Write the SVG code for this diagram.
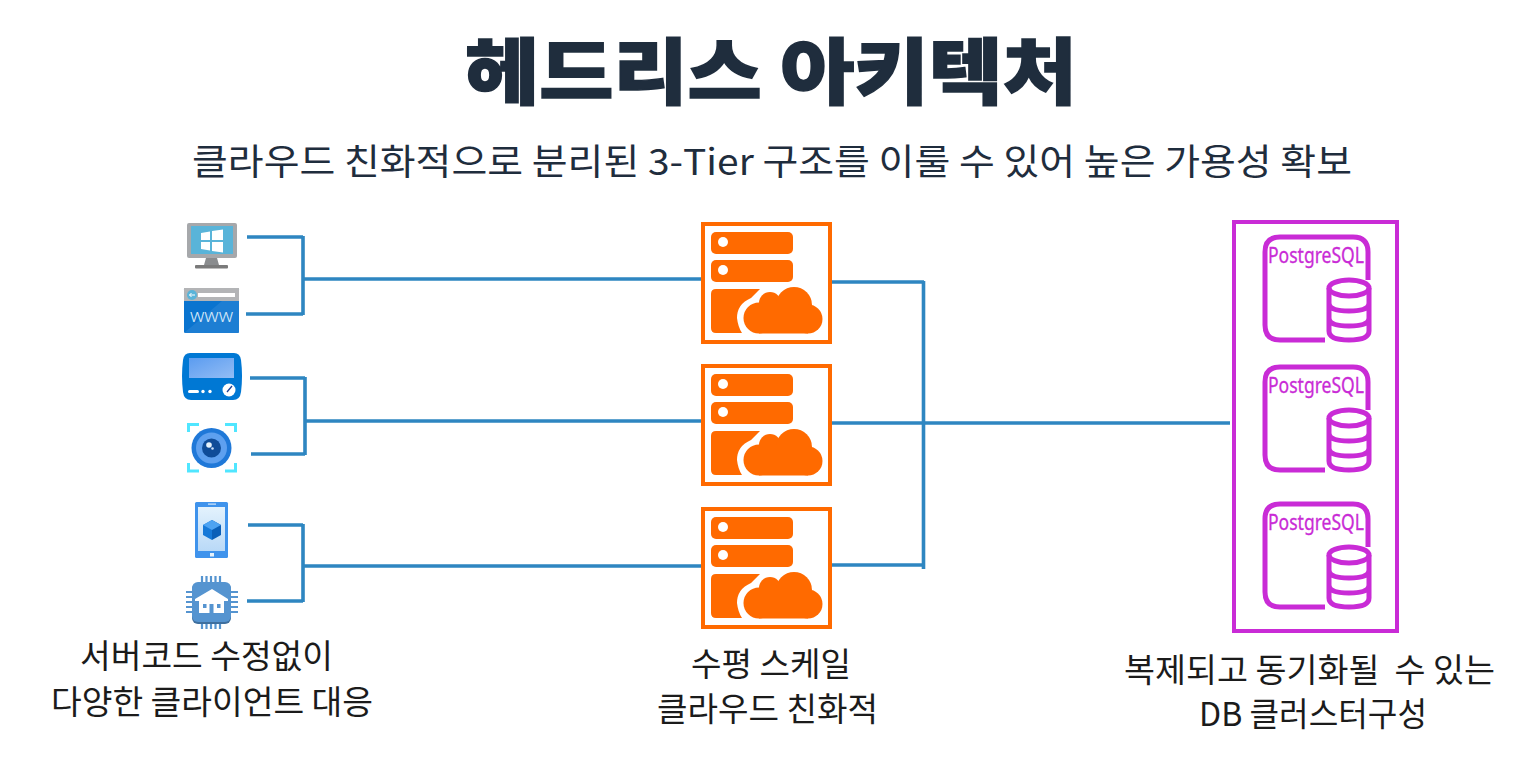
<svg xmlns="http://www.w3.org/2000/svg" width="1516" height="765" viewBox="0 0 1516 765">
<style>
text{font-family:"Noto Sans CJK KR","Noto Sans",sans-serif;fill:#1f2d3d;text-anchor:start}
.title{font-size:72px;font-weight:900;stroke:#1f2d3d;stroke-width:1.5}
.sub{font-size:36px;font-weight:400}
.cap{font-size:33px;font-weight:400;fill:#1b1b1b}
.conn{stroke:#2e86c1;stroke-width:3.6;fill:none}
.or{fill:#ff6a00}
.mg{stroke:#c92bd6;stroke-width:5;fill:none}
.pg{font-family:"Noto Sans",sans-serif;font-size:21px;fill:#c92bd6;stroke:#c92bd6;stroke-width:.3}
</style>
<defs>
<linearGradient id="blueg" x1="0" y1="0" x2="1" y2="1"><stop offset="0" stop-color="#5b9cf0"/><stop offset="1" stop-color="#93bdf5"/></linearGradient>
<linearGradient id="phg" x1="0" y1="0" x2="0" y2="1"><stop offset="0" stop-color="#e3f2fd"/><stop offset="1" stop-color="#b9d9f7"/></linearGradient>
<g id="server">
<rect x="703" y="224" width="127" height="118" fill="#fff" stroke="#ff6a00" stroke-width="4"/>
<rect class="or" x="711" y="232" width="82" height="22" rx="5"/>
<rect class="or" x="711" y="260" width="82" height="22" rx="5"/>
<circle cx="723" cy="242" r="5" fill="#fff"/>
<circle cx="723" cy="270" r="5" fill="#fff"/>
<path class="or" d="M716 289H760L751 298Q737 304 737 318Q738 327 742 333H716Q711 333 711 328V294Q711 289 716 289Z"/>
<circle class="or" cx="759" cy="318" r="15.500"/>
<circle class="or" cx="770" cy="303" r="11"/>
<circle class="or" cx="794" cy="305" r="18"/>
<circle class="or" cx="808" cy="319" r="14.500"/>
<rect class="or" x="759" y="303" width="49" height="30.500"/>
</g>
<g id="pgdb">
<path class="mg" d="M1368 280V252Q1368 237 1353 237H1280Q1265 237 1265 252V325Q1265 340 1280 340H1325"/>
<text class="pg" x="1268" y="263" textLength="96" lengthAdjust="spacingAndGlyphs">PostgreSQL</text>
<ellipse class="mg" cx="1349" cy="288" rx="20" ry="8"/>
<path class="mg" d="M1329 288V331Q1329 340 1349 340Q1369 340 1369 331V288M1329 303Q1329 311 1349 311Q1369 311 1369 303M1329 318Q1329 326 1349 326Q1369 326 1369 318"/>
</g>
</defs>

<g id="title">
<text class="title" x="465" y="98" textLength="612" lengthAdjust="spacingAndGlyphs">헤드리스 아키텍처</text>
<text class="sub" x="192" y="175" textLength="1160" lengthAdjust="spacingAndGlyphs">클라우드 친화적으로 분리된 3-Tier 구조를 이룰 수 있어 높은 가용성 확보</text>
</g>

<g id="connectors" class="conn">
<path d="M247 237H303M303 236V315M246 314H303M302 279H703"/>
<path d="M250 378H305M305 377V455M251 454H305M304 421H703"/>
<path d="M248 525H303M303 524V602M247 601H303M302 566H703"/>
<path d="M830 282H924M830 423H1230M830 565H924M923.500 281V569"/>
</g>

<g id="client-vm">
<rect x="187" y="223" width="50" height="35" rx="2" fill="#a6a8ab"/>
<rect x="191" y="226" width="42" height="28" fill="#59b4d9"/>
<path d="M201 233L210 231.500V240H201ZM212 231L223 229.500V240H212ZM201 242H210V250.500L201 249ZM212 242H223V252.500L212 251Z" fill="#fff"/>
<path d="M206 258H217L219 265H204Z" fill="#8a8c8e"/>
<rect x="195" y="265" width="33" height="3.500" rx="1" fill="#7a7a7a"/>
</g>
<g id="client-web">
<rect x="184" y="288" width="55" height="45" rx="1.500" fill="#0a74cf"/>
<path d="M184 333L222 301H239V333Z" fill="#2a86d6" opacity=".6"/>
<rect x="184" y="288" width="55" height="13" fill="#b3b4b6"/>
<circle cx="192" cy="295" r="5" fill="#59b4d9"/>
<rect x="198" y="293" width="37" height="4" fill="#fff"/>
<path d="M195 295H189.500M191.500 293L189.500 295L191.500 297" stroke="#fff" stroke-width="1" fill="none"/>
<text x="190" y="322" textLength="43" lengthAdjust="spacingAndGlyphs" style="font-family:'Noto Sans',sans-serif;font-size:18px;font-weight:300;fill:#d5e8f8">www</text>
</g>
<g id="client-device">
<path d="M190 353H234Q240 353 241 360Q243 376 241 392Q240 400 233 400H191Q184 400 183 392Q181 376 183 360Q184 353 190 353Z" fill="#0078d4"/>
<rect x="189" y="358" width="45" height="20" fill="url(#blueg)"/>
<rect x="188" y="390" width="11" height="3" rx="1.500" fill="#fff"/>
<circle cx="203" cy="391.500" r="1.700" fill="#fff"/>
<circle cx="210" cy="391.500" r="1.700" fill="#fff"/>
<circle cx="229" cy="390" r="6.500" fill="#fff"/>
<path d="M227 392L232 386" stroke="#1d3f94" stroke-width="1.300"/>
</g>
<g id="client-camera">
<path d="M188.500 432V424.500H199M225 424.500H235.500V432M188.500 463V471H199M225 471H235.500V463" fill="none" stroke="#50e6ff" stroke-width="3"/>
<circle cx="211.500" cy="448" r="20" fill="#1f78d8"/>
<circle cx="211.500" cy="448" r="15.500" fill="#5ea0ef"/>
<circle cx="211.500" cy="448" r="9.500" fill="#0f4c98"/>
<circle cx="209" cy="445" r="2.800" fill="#e6f2fb"/>
<circle cx="212.500" cy="448.500" r="1.300" fill="#c8defa"/>
</g>
<g id="client-mobile">
<rect x="195" y="502" width="33" height="56" rx="1.500" fill="#3f93ec"/>
<rect x="198" y="507" width="27" height="44" fill="url(#phg)"/>
<rect x="208" y="503.500" width="8" height="1.200" fill="#d6e8fb"/>
<rect x="210" y="553" width="4" height="3.500" fill="#e6f2fb"/>
<path d="M212 520L221 525V535L212 540Z" fill="#0a5fb8"/>
<path d="M212 520L203 525V535L212 540Z" fill="#1679d8"/>
<path d="M212 520L221 525L212 530L203 525Z" fill="#4da3f2"/>
</g>
<g id="client-iot">
<path d="M202 576V582M206.500 576V582M211 576V582M215.500 576V582M220 576V582M202 623V629M206.500 623V629M211 623V629M215.500 623V629M220 623V629M186 592H192M186 597H192M186 602H192M186 607H192M186 612H192M231 592H238M231 597H238M231 602H238M231 607H238M231 612H238" stroke="#5594d0" stroke-width="2.200"/>
<rect x="192" y="583" width="39" height="41" rx="6" fill="#3e6f9e"/>
<rect x="192" y="582" width="39" height="40" rx="6" fill="#5594d0"/>
<path d="M212 589L228 599V601H224V613H199V601H195V599Z" fill="#fff"/>
<rect x="209.500" y="604" width="4" height="9" fill="#5594d0"/>
<rect x="203" y="604" width="3.500" height="4" fill="#5594d0"/>
<rect x="217" y="604" width="3.500" height="4" fill="#5594d0"/>
</g>

<g id="server-1"><use href="#server"/></g>
<g id="server-2"><use href="#server" y="142"/></g>
<g id="server-3"><use href="#server" y="285"/></g>

<g id="db-cluster">
<rect x="1234" y="222" width="163" height="409" fill="none" stroke="#c92bd6" stroke-width="4"/>
<use href="#pgdb"/>
<use href="#pgdb" y="130"/>
<use href="#pgdb" y="267"/>
</g>

<g id="captions">
<text class="cap" x="80" y="668" textLength="253" lengthAdjust="spacingAndGlyphs">서버코드 수정없이</text>
<text class="cap" x="51" y="714" textLength="322" lengthAdjust="spacingAndGlyphs">다양한 클라이언트 대응</text>
<text class="cap" x="691" y="676" textLength="160" lengthAdjust="spacingAndGlyphs">수평 스케일</text>
<text class="cap" x="657" y="721" textLength="221" lengthAdjust="spacingAndGlyphs">클라우드 친화적</text>
<text class="cap" x="1124" y="682" textLength="371" lengthAdjust="spacingAndGlyphs" xml:space="preserve">복제되고 동기화될  수 있는</text>
<text class="cap" x="1199" y="726" textLength="228" lengthAdjust="spacingAndGlyphs">DB 클러스터구성</text>
</g>
</svg>
